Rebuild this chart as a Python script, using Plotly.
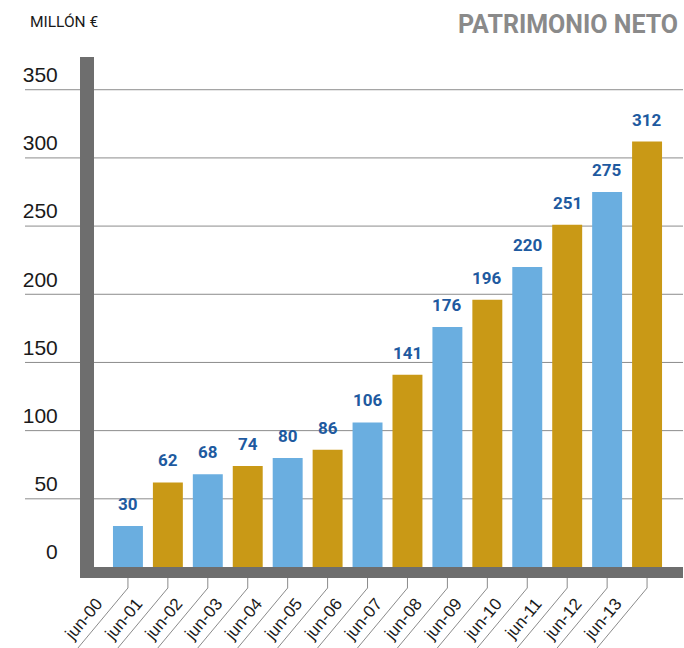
import plotly.graph_objects as go

categories = ["jun-00", "jun-01", "jun-02", "jun-03", "jun-04", "jun-05", "jun-06",
              "jun-07", "jun-08", "jun-09", "jun-10", "jun-11", "jun-12", "jun-13"]
values = [30, 62, 68, 74, 80, 86, 106, 141, 176, 196, 220, 251, 275, 312]
y_ticks = [0, 50, 100, 150, 200, 250, 300, 350]

BLUE = "#6AAEE0"
GOLD = "#C99916"
LABEL_BLUE = "#1E5AA0"
AXIS_GRAY = "#6E6E6E"
GRID_GRAY = "#8C8C8C"
ROBOTO = "Roboto, Liberation Sans, sans-serif"
REG = "Liberation Sans, Arial, sans-serif"

bar_colors = [BLUE if i % 2 == 0 else GOLD for i in range(len(values))]
x_range = [-0.85, 13.9]
y_range = [0, 374]

fig = go.Figure()
fig.add_trace(go.Bar(x=categories, y=values, marker=dict(color=bar_colors, line=dict(width=0)),
                     width=0.75, hoverinfo="x+y"))

# value labels
for c, v in zip(categories, values):
    fig.add_annotation(x=c, y=v, text=str(v), showarrow=False, xref="x", yref="y",
                       yanchor="bottom", yshift=10,
                       font=dict(family=ROBOTO, size=17, color=LABEL_BLUE, weight="bold"))

# gridlines extending left of the axis
for t in y_ticks[1:]:
    fig.add_shape(type="line", xref="paper", yref="y", x0=-69 / 589, x1=1, y0=t, y1=t,
                  line=dict(color=GRID_GRAY, width=1), layer="below")

# leader lines under the rotated category labels
for i, c in enumerate(categories):
    frac = (i - x_range[0]) / (x_range[1] - x_range[0])
    fig.add_shape(type="path", xref="paper", yref="paper", xsizemode="pixel", ysizemode="pixel",
                  xanchor=frac, yanchor=0, path="M0,-11 L0,-21 L-50,-81",
                  line=dict(color="#8A8A8A", width=1))

fig.add_annotation(text="PATRIMONIO NETO", xref="paper", yref="paper", x=1, y=1,
                   xanchor="right", yanchor="middle", xshift=-3, yshift=33, showarrow=False,
                   font=dict(family=ROBOTO, size=25, color="#8A8A8A", weight="bold"))
fig.add_annotation(text="MILLÓN €", xref="paper", yref="paper", x=0, y=1,
                   xanchor="left", yanchor="middle", xshift=-66, yshift=35, showarrow=False,
                   font=dict(family=ROBOTO, size=15.5, color="#1A1A1A"))

fig.update_layout(
    width=684, height=648,
    margin=dict(l=94, r=1, t=57, b=81, autoexpand=False),
    plot_bgcolor="white", paper_bgcolor="white",
    showlegend=False, bargap=0.25,
    xaxis=dict(type="category", range=x_range, showgrid=False, showline=True, linewidth=11,
               linecolor=AXIS_GRAY, ticks="", tickangle=-50, automargin=False,
               ticklabelshift=-31, ticklabelstandoff=9,
               tickfont=dict(family=REG, size=17, color="#1A1A1A"), zeroline=False),
    yaxis=dict(range=y_range, tickvals=y_ticks, showgrid=False, showline=True, linewidth=14,
               linecolor=AXIS_GRAY, ticks="", automargin=False, zeroline=False,
               ticklabelshift=-15, ticklabelstandoff=18,
               tickfont=dict(family=REG, size=21, color="#1A1A1A")),
)

fig.write_html("out.html", config={"displayModeBar": False},
               post_script="document.body.style.margin='0px';")
